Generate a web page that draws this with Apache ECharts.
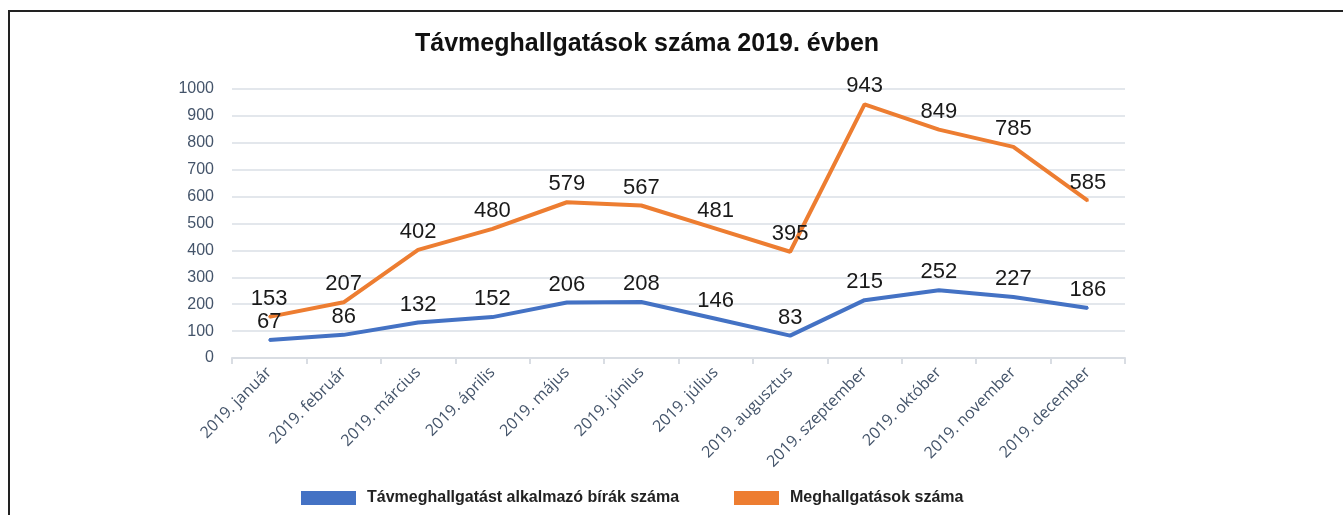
<!DOCTYPE html>
<html>
<head>
<meta charset="utf-8">
<script src="https://cdn.jsdelivr.net/npm/echarts@6/dist/echarts.min.js"></script>
<style>
  html, body { margin: 0; padding: 0; background: #fff; }
  #chart { width: 1343px; height: 515px; }
</style>
</head>
<body>
<div id="chart"></div>
<script>
const months = ['2019. január', '2019. február', '2019. március', '2019. április', '2019. május', '2019. június',
  '2019. július', '2019. augusztus', '2019. szeptember', '2019. október', '2019. november', '2019. december'];
const judges = [67, 86, 132, 152, 206, 208, 146, 83, 215, 252, 227, 186];
const hearings = [153, 207, 402, 480, 579, 567, 481, 395, 943, 849, 785, 585];

const chart = echarts.init(document.getElementById('chart'));

const labelStyle = {
  show: true,
  position: 'top',
  distance: 6,
  color: '#1a1a1a',
  fontSize: 22,
  fontFamily: 'Liberation Sans, Arial, sans-serif'
};

const legendText = { fontSize: 16, fontWeight: 'bold', color: '#222', fontFamily: 'Liberation Sans Narrow, Arial Narrow, sans-serif', padding: [0, 0, 0, 6] };

chart.setOption({
  animation: false,
  title: {
    text: 'Távmeghallgatások száma 2019. évben',
    left: 410,
    top: 27,
    textStyle: { fontSize: 25, fontWeight: 'bold', color: '#111', fontFamily: 'Liberation Sans, Arial, sans-serif' }
  },
  graphic: [{
    type: 'rect',
    shape: { x: 9, y: 11, width: 1400, height: 600 },
    style: { fill: 'none', stroke: '#222', lineWidth: 2 }
  }],
  legend: [
    {
      bottom: 4, left: 296, itemWidth: 55, itemHeight: 14, icon: 'rect',
      textStyle: legendText,
      data: ['Távmeghallgatást alkalmazó bírák száma']
    },
    {
      bottom: 4, left: 729, itemWidth: 45, itemHeight: 14, icon: 'rect',
      textStyle: legendText,
      data: ['Meghallgatások száma']
    }
  ],
  grid: { left: 232, right: 218, top: 89, bottom: 157 },
  xAxis: {
    type: 'category',
    data: months,
    boundaryGap: true,
    axisLine: { lineStyle: { color: '#d9dde3', width: 2 } },
    axisTick: { show: true, length: 6, lineStyle: { color: '#d9dde3', width: 2 } },
    axisLabel: { rotate: 45, color: '#44546a', fontSize: 16, margin: 12, fontFamily: 'Open Sans, Liberation Sans, sans-serif' }
  },
  yAxis: {
    type: 'value',
    min: 0,
    max: 1000,
    interval: 100,
    axisLine: { show: false },
    axisTick: { show: false },
    splitLine: { lineStyle: { color: '#e3e7ec', width: 2 } },
    axisLabel: { color: '#44546a', fontSize: 16, margin: 18, formatter: v => String(v), fontFamily: 'Liberation Sans, Arial, sans-serif' }
  },
  series: [
    {
      name: 'Távmeghallgatást alkalmazó bírák száma',
      type: 'line',
      data: judges,
      color: '#4472c4',
      symbol: 'circle',
      symbolSize: 2,
      showSymbol: true,
      itemStyle: { color: '#4472c4' },
      lineStyle: { width: 4, color: '#4472c4' },
      label: labelStyle
    },
    {
      name: 'Meghallgatások száma',
      type: 'line',
      data: hearings,
      color: '#ed7d31',
      symbol: 'circle',
      symbolSize: 2,
      showSymbol: true,
      itemStyle: { color: '#ed7d31' },
      lineStyle: { width: 4, color: '#ed7d31' },
      label: labelStyle
    }
  ]
});
</script>
</body>
</html>
